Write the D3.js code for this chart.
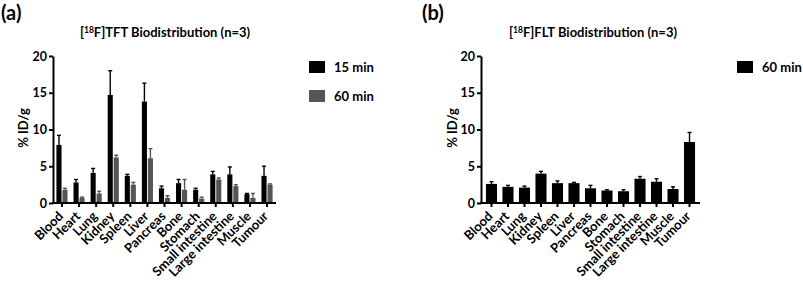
<!DOCTYPE html>
<html>
<head>
<meta charset="utf-8">
<script src="https://cdn.jsdelivr.net/npm/d3@7"></script>
<style>
  body { margin: 0; background: #fff; }
  svg text { font-family: Lato, "Open Sans", sans-serif; font-weight: bold; fill: #000; }
</style>
</head>
<body>
<svg id="chart" width="803" height="282"></svg>
<script>
// 臓器カテゴリ
var organs = ['Blood', 'Heart', 'Lung', 'Kidney', 'Spleen', 'Liver', 'Pancreas', 'Bone',
  'Stomach', 'Small intestine', 'Large intestine', 'Muscle', 'Tumour'];

// [18F]TFT 平均値と誤差
var tft15 = [7.9, 2.8, 4.1, 14.7, 3.7, 13.8, 2.0, 2.7, 1.8, 3.9, 3.9, 1.2, 3.7];
var tft15Err = [1.3, 0.4, 0.6, 3.3, 0.2, 2.5, 0.3, 0.5, 0.2, 0.4, 1.0, 0.1, 1.3];
var tft60 = [1.8, 0.7, 1.3, 6.2, 2.5, 6.1, 0.7, 1.8, 0.6, 3.2, 2.3, 0.7, 2.5];
var tft60Err = [0.2, 0.1, 0.3, 0.3, 0.3, 1.3, 0.3, 1.4, 0.2, 0.2, 0.2, 0.6, 0.1];

// [18F]FLT 平均値と誤差
var flt60 = [2.6, 2.2, 2.1, 4.0, 2.7, 2.7, 2.0, 1.7, 1.6, 3.3, 2.9, 1.9, 8.3];
var flt60Err = [0.3, 0.2, 0.2, 0.3, 0.3, 0.1, 0.4, 0.1, 0.2, 0.3, 0.4, 0.3, 1.3];

var yTicks = [0, 5, 10, 15, 20];
var black = '#000';
var grey = '#555';

var svg = d3.select('#chart');

function drawPanel(opt) {
  var g = svg.append('g');
  var y = d3.scaleLinear().domain([0, 20]).range([203, 56]);
  var x = d3.scaleBand().domain(organs).range([opt.x0, opt.x1])
    .paddingInner(opt.padIn).paddingOuter(opt.padOut);
  var sub = d3.scaleBand().domain(d3.range(opt.series.length))
    .range([0, x.bandwidth()]).paddingInner(opt.series.length > 1 ? 0.15 : 0);

  //棒と誤差棒
  opt.series.forEach(function(s, si) {
    var bars = g.append('g').selectAll('g').data(s.values).enter().append('g');
    bars.append('rect')
      .attr('x', function(d, i) { return x(organs[i]) + sub(si); })
      .attr('y', function(d) { return y(d); })
      .attr('width', sub.bandwidth())
      .attr('height', function(d) { return y(0) - y(d); })
      .attr('fill', s.color);
    var cx = function(d, i) { return x(organs[i]) + sub(si) + sub.bandwidth() / 2; };
    bars.append('line')
      .attr('x1', cx).attr('x2', cx)
      .attr('y1', function(d) { return y(d); })
      .attr('y2', function(d, i) { return y(d + s.err[i]); })
      .attr('stroke', s.color).attr('stroke-width', 1.4);
    bars.append('line')
      .attr('x1', function(d, i) { return cx(d, i) - 2; })
      .attr('x2', function(d, i) { return cx(d, i) + 2; })
      .attr('y1', function(d, i) { return y(d + s.err[i]); })
      .attr('y2', function(d, i) { return y(d + s.err[i]); })
      .attr('stroke', s.color).attr('stroke-width', 1.4);
  });

  //y軸
  var yAxis = g.append('g')
    .attr('transform', 'translate(' + opt.x0 + ',0)')
    .call(d3.axisLeft(y).tickValues(yTicks).tickSize(4).tickPadding(2).tickSizeOuter(0));
  yAxis.select('.domain').attr('stroke-width', 2);
  yAxis.selectAll('.tick line').attr('stroke-width', 2);
  yAxis.selectAll('.tick text').style('font-size', '12.5px').style('font-family', 'Lato, sans-serif');

  //x軸
  var xAxis = g.append('g')
    .attr('transform', 'translate(0,' + y(0) + ')')
    .call(d3.axisBottom(x).tickSize(4).tickSizeOuter(0).tickFormat(''));
  xAxis.select('.domain').attr('stroke-width', 2).attr('d', 'M' + (opt.x0 - 1) + ',0H' + opt.x1);
  xAxis.selectAll('.tick line').attr('stroke-width', 2);

  g.selectAll('.cat').data(organs).enter().append('text')
    .attr('class', 'cat')
    .attr('text-anchor', 'end')
    .attr('font-size', '13px')
    .attr('transform', function(d) {
      return 'translate(' + (x(d) + x.bandwidth() / 2 + 2) + ',' + 217 + ') rotate(-45)';
    })
    .text(function(d) { return d; });

  //軸ラベル
  g.append('text')
    .attr('text-anchor', 'middle')
    .attr('font-size', '13px')
    .attr('transform', 'translate(' + opt.yLabelX + ',128) rotate(-90)')
    .text('% ID/g');

  //タイトル
  var t = g.append('text')
    .attr('x', opt.titleX).attr('y', 37)
    .attr('text-anchor', 'middle')
    .attr('font-size', '13px');
  t.append('tspan').text('[');
  t.append('tspan').attr('font-size', '8.5px').attr('dy', -4).text('18');
  t.append('tspan').attr('dy', 4).text('F]' + opt.tracer + ' Biodistribution (n=3)');

  //パネル記号
  g.append('text')
    .attr('x', opt.letterX).attr('y', 20)
    .attr('font-size', '20px')
    .text(opt.letter);

  //凡例
  var leg = g.selectAll('.leg').data(opt.series).enter().append('g')
    .attr('transform', function(d, i) { return 'translate(' + opt.legX + ',' + (61 + i * 29) + ')'; });
  leg.append('rect').attr('width', 16).attr('height', 12).attr('fill', function(d) { return d.color; });
  leg.append('text').attr('x', 25).attr('y', 11).attr('font-size', '13px')
    .text(function(d) { return d.name; });
}

drawPanel({
  x0: 53, x1: 276, padIn: 0.35, padOut: 0.2,
  yLabelX: 28, titleX: 165, letterX: 1, letter: '(a)', tracer: 'TFT', legX: 309,
  series: [
    { name: '15 min', values: tft15, err: tft15Err, color: black },
    { name: '60 min', values: tft60, err: tft60Err, color: grey }
  ]
});

drawPanel({
  x0: 481, x1: 700, padIn: 0.33, padOut: 0.3,
  yLabelX: 457, titleX: 593, letterX: 422, letter: '(b)', tracer: 'FLT', legX: 737,
  series: [
    { name: '60 min', values: flt60, err: flt60Err, color: black }
  ]
});
</script>
</body>
</html>
